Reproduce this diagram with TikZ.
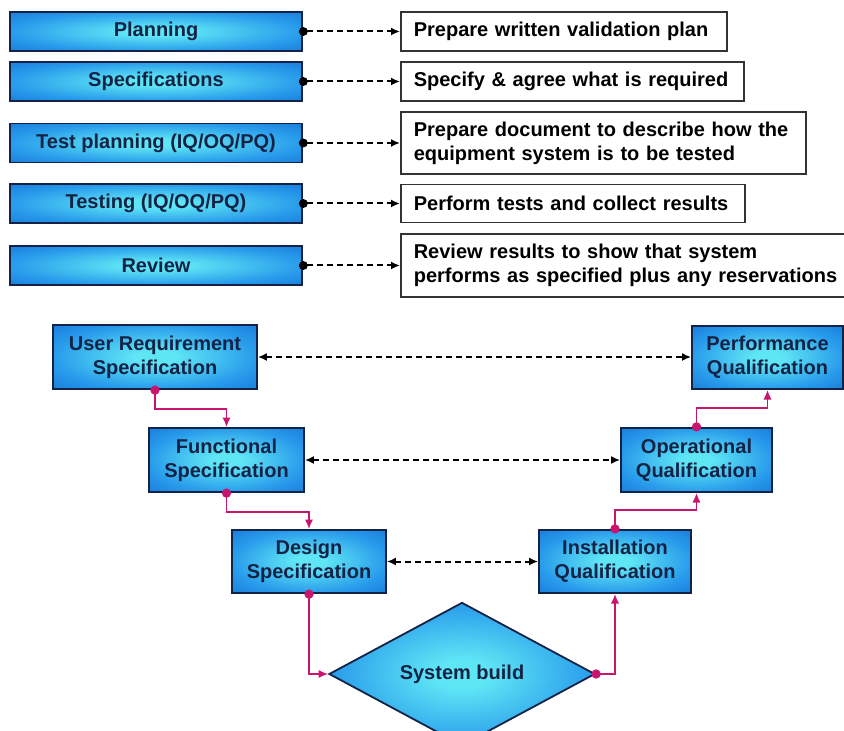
\documentclass[tikz,border=0pt]{standalone}
\usepackage{fontspec}
\setmainfont{Liberation Sans}
\usetikzlibrary{arrows.meta,shapes.geometric}

\definecolor{bleuext}{RGB}{18,108,212}
\definecolor{bleumil}{RGB}{40,155,235}
\definecolor{bleuint}{RGB}{95,230,245}
\definecolor{encre}{RGB}{20,34,70}
\definecolor{rose}{RGB}{200,22,110}
\pgfdeclareradialshading{reflet}{\pgfpoint{0bp}{0bp}}{color(0bp)=(bleuint); color(5bp)=(bleuint); color(25bp)=(bleumil); color(42bp)=(bleuext); color(50bp)=(bleuext)}

\begin{document}
\begin{tikzpicture}[x=0.5pt,y=-0.5pt,
  font=\fontsize{10}{12}\selectfont\bfseries,
  bloc/.style={draw=encre, line width=0.9pt, shading=reflet, text=encre, align=center, inner sep=0pt},
  note/.style={draw=black!80, line width=0.8pt, fill=white, anchor=west, align=left, inner xsep=6.5pt, inner ysep=0pt, text width=#1},
  lien/.style={line width=1pt, dash pattern=on 3pt off 2pt, shorten <=-2pt, {Circle[length=4.4pt]}-{Latex[length=4.5pt,width=4pt]}},
  renvoi/.style={line width=1pt, dash pattern=on 3pt off 2pt, {Latex[length=4.5pt,width=4pt]}-{Latex[length=4.5pt,width=4pt]}},
  suite/.style={draw=rose, line width=0.9pt, shorten <=-2.2pt, {Circle[length=4.6pt,fill=rose]}-{Latex[length=4.8pt,width=4.2pt,fill=rose]}}]

%%%%%%%%%%%%%%%%%%%%%%
%%%	 Def géométrie  %%%
%%%%%%%%%%%%%%%%%%%%%%

\def \largeurh{146pt}
\def \hauteurh{19.5pt}
\def \hauteurb{32pt}
\def \coude{19}

\useasboundingbox (0,0) rectangle (844,731);

%%%%%%%%%%%%%%%%%%%%%%
%%%	  Étapes haut   %%%
%%%%%%%%%%%%%%%%%%%%%%

\node[bloc, minimum width=\largeurh, minimum height=\hauteurh] (plan) at (156,31.5) {Planning};
\node[bloc, minimum width=\largeurh, minimum height=\hauteurh] (spec) at (156,81.5) {Specifications};
\node[bloc, minimum width=\largeurh, minimum height=\hauteurh] (tplan) at (156,143) {Test planning (IQ/OQ/PQ)};
\node[bloc, minimum width=\largeurh, minimum height=\hauteurh] (test) at (156,203.5) {Testing (IQ/OQ/PQ)};
\node[bloc, minimum width=\largeurh, minimum height=\hauteurh] (revue) at (156,265.5) {Review};

\node[note=150pt, minimum height=19.5pt] (planR) at (400,31.5) {Prepare written validation plan};
\node[note=158.5pt, minimum height=19.5pt] (specR) at (400,81.5) {Specify \& agree what is required};
\node[note=189.5pt, minimum height=31pt] (tplanR) at (400,143) {Prepare document to describe how the\\equipment system is to be tested};
\node[note=159pt, minimum height=19pt] (testR) at (400,203.5) {Perform tests and collect results};
\node[note=214pt, minimum height=31.5pt] (revueR) at (400,265.5) {Review results to show that system\\performs as specified plus any reservations};

% On relie chaque étape à sa description
\draw[lien] (plan.east) -- (plan.east -| planR.west);
\draw[lien] (spec.east) -- (spec.east -| specR.west);
\draw[lien] (tplan.east) -- (tplan.east -| tplanR.west);
\draw[lien] (test.east) -- (test.east -| testR.west);
\draw[lien] (revue.east) -- (revue.east -| revueR.west);

%%%%%%%%%%%%%%%%%%%%%%
%%%	    Cycle en V  %%%
%%%%%%%%%%%%%%%%%%%%%%

\node[bloc, minimum width=102pt, minimum height=\hauteurb] (urs) at (155,357) {User Requirement\\Specification};
\node[bloc, minimum width=77.5pt, minimum height=\hauteurb] (fs) at (226.5,460) {Functional\\Specification};
\node[bloc, minimum width=77pt, minimum height=31.5pt] (ds) at (309,561.5) {Design\\Specification};
\node[bloc, diamond, minimum width=133pt, minimum height=61pt] (build) at (462,674) {System build};
\node[bloc, minimum width=76pt, minimum height=31.5pt] (iq) at (615,561.5) {Installation\\Qualification};
\node[bloc, minimum width=75.5pt, minimum height=\hauteurb] (oq) at (696.5,460) {Operational\\Qualification};
\node[bloc, minimum width=75.5pt, minimum height=31.5pt] (pq) at (767.5,357.5) {Performance\\Qualification};

% On dessine les renvois entre les deux branches
\draw[renvoi] (urs.east) -- (urs.east -| pq.west);
\draw[renvoi] (fs.east) -- (fs.east -| oq.west);
\draw[renvoi] (ds.east) -- (ds.east -| iq.west);

% On dessine la descente puis la remontée
\draw[suite] (urs.south) -- ++(0,\coude) -| (fs.north);
\draw[suite] (fs.south) -- ++(0,\coude) -| (ds.north);
\draw[suite] (ds.south) |- (build.west);
\draw[suite] (build.east) -| (iq.south);
\draw[suite] (iq.north) -- ++(0,-\coude) -| (oq.south);
\draw[suite] (oq.north) -- ++(0,-\coude) -| (pq.south);

%%%%%%%%%%%%%%%%%%%%%%%%%%%%%%%%%%%%%%%%%

\end{tikzpicture}
\end{document}
